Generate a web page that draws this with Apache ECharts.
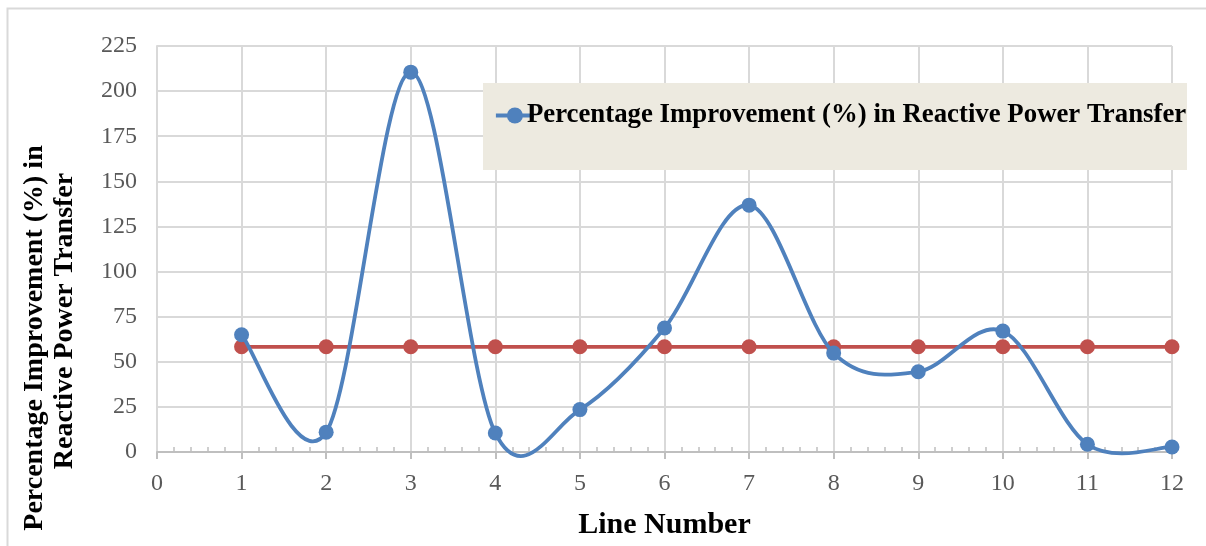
<!DOCTYPE html>
<html>
<head>
<meta charset="utf-8">
<script src="https://cdn.jsdelivr.net/npm/echarts@6/dist/echarts.min.js"></script>
<style>
html,body{margin:0;padding:0;background:#fff;}
#c{width:1206px;height:546px;}
</style>
</head>
<body>
<div id="c"></div>
<script>
const lineNumbers = [1, 2, 3, 4, 5, 6, 7, 8, 9, 10, 11, 12];
const improvement = [65, 11, 210.5, 10.5, 23.5, 68.7, 136.8, 54.8, 44.5, 67, 4.3, 2.8];
const average = [58.3, 58.3, 58.3, 58.3, 58.3, 58.3, 58.3, 58.3, 58.3, 58.3, 58.3, 58.3];
const seriesName = 'Percentage Improvement (%) in Reactive Power Transfer';
const xTitle = 'Line Number';
const yTitle1 = 'Percentage Improvement (%) in';
const yTitle2 = 'Reactive Power Transfer';

const BLUE = '#4F81BD', RED = '#C0504D';
const serif = '"Liberation Serif", "DejaVu Serif", serif';
const chart = echarts.init(document.getElementById('c'), null, {renderer: 'canvas'});
const pair = (xs, ys) => xs.map((x, i) => [x, ys[i]]);
const bluePts = pair(lineNumbers, improvement);

// Excel-style smoothed line (Catmull-Rom Bezier) through the library's coordinate system
function renderSmooth(params, api) {
  if (params.dataIndex !== 0) return null;
  const p = bluePts.map(d => api.coord(d));
  let d = 'M' + p[0][0] + ' ' + p[0][1];
  for (let i = 0; i < p.length - 1; i++) {
    const p0 = p[Math.max(i - 1, 0)], p1 = p[i], p2 = p[i + 1], p3 = p[Math.min(i + 2, p.length - 1)];
    const c1 = [p1[0] + (p2[0] - p0[0]) / 6, p1[1] + (p2[1] - p0[1]) / 6];
    const c2 = [p2[0] - (p3[0] - p1[0]) / 6, p2[1] - (p3[1] - p1[1]) / 6];
    d += ' C' + c1[0] + ' ' + c1[1] + ' ' + c2[0] + ' ' + c2[1] + ' ' + p2[0] + ' ' + p2[1];
  }
  return {type: 'path', shape: {pathData: d}, style: {fill: 'none', stroke: BLUE, lineWidth: 3.8, lineJoin: 'round'}};
}

chart.setOption({
  animation: false,
  backgroundColor: '#ffffff',
  grid: {left: 157, right: 34, top: 46, bottom: 94, containLabel: false},
  xAxis: [{
    type: 'value', min: 0, max: 12, interval: 1,
    axisLine: {show: true, lineStyle: {color: '#BFBFBF', width: 2}},
    axisTick: {show: true, length: 7, lineStyle: {color: '#BFBFBF', width: 2}},
    axisLabel: {color: '#595959', fontFamily: serif, fontSize: 24, margin: 20},
    splitLine: {show: true, lineStyle: {color: '#D9D9D9', width: 2}},
    name: xTitle, nameLocation: 'middle', nameGap: 58,
    nameTextStyle: {color: '#000', fontFamily: serif, fontWeight: 'bold', fontSize: 30}
  }, {
    type: 'value', min: 0, max: 12, interval: 1, position: 'bottom',
    axisLine: {show: false},
    axisTick: {show: false, inside: true},
    axisLabel: {show: false},
    splitLine: {show: false},
    minorTick: {show: true, splitNumber: 5, length: 5, lineStyle: {color: '#BFBFBF', width: 1.5}}
  }],
  yAxis: {
    type: 'value', min: 0, max: 225, interval: 25,
    axisLine: {show: true, lineStyle: {color: '#D9D9D9', width: 2}},
    axisTick: {show: false},
    axisLabel: {color: '#595959', fontFamily: serif, fontSize: 24, margin: 20},
    splitLine: {show: true, lineStyle: {color: '#D9D9D9', width: 2}}
  },
  legend: {
    z: 10,
    data: [{name: seriesName, itemStyle: {color: BLUE},
            lineStyle: {color: BLUE, width: 3.8, opacity: 1}}],
    left: 489, top: 97,
    itemWidth: 38, itemHeight: 20, itemGap: 0,
    textStyle: {color: '#000', fontFamily: serif, fontWeight: 'bold', fontSize: 26.8, padding: [0, 0, 0, -12]}
  },
  graphic: [
    {type: 'rect', z: 0, shape: {x: 7.5, y: 8.5, width: 1300, height: 700}, style: {fill: 'none', stroke: '#D9D9D9', lineWidth: 2}},
    {type: 'rect', z: 3, shape: {x: 483, y: 83, width: 704, height: 87}, style: {fill: '#EDEAE0'}},
    {type: 'text', z: 5, x: 35, y: 338, rotation: Math.PI / 2,
      style: {text: yTitle1, font: 'bold 28px ' + serif, fill: '#000', textAlign: 'center', textVerticalAlign: 'middle'}},
    {type: 'text', z: 5, x: 65, y: 321, rotation: Math.PI / 2,
      style: {text: yTitle2, font: 'bold 28px ' + serif, fill: '#000', textAlign: 'center', textVerticalAlign: 'middle'}}
  ],
  series: [{
    name: 'Average',
    type: 'line',
    data: pair(lineNumbers, average),
    symbol: 'circle', symbolSize: 15,
    itemStyle: {color: RED},
    lineStyle: {color: RED, width: 3.8},
    z: 4
  }, {
    name: 'smoothCurve',
    type: 'custom',
    coordinateSystem: 'cartesian2d',
    data: bluePts,
    encode: {x: 0, y: 1},
    renderItem: renderSmooth,
    silent: true,
    z: 5
  }, {
    name: seriesName,
    type: 'line',
    data: bluePts,
    symbol: 'circle', symbolSize: 15,
    itemStyle: {color: BLUE},
    lineStyle: {color: BLUE, width: 3.8, opacity: 0},
    z: 6
  }]
});
</script>
</body>
</html>
